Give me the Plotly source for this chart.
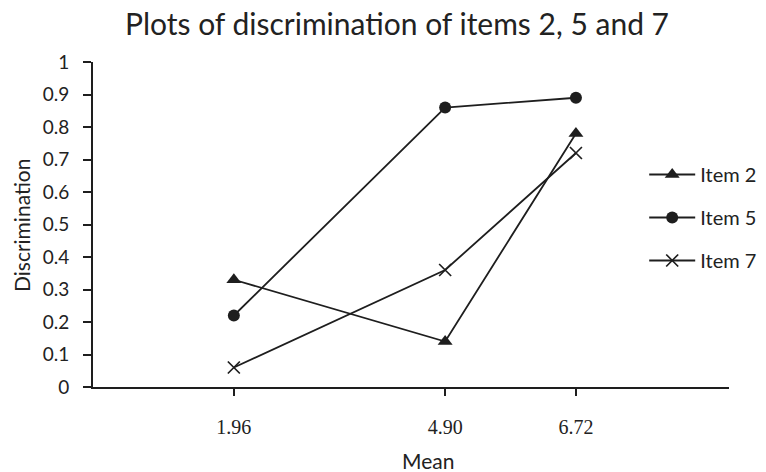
import plotly.graph_objects as go

means = [1.96, 4.90, 6.72]
mean_labels = ["1.96", "4.90", "6.72"]
item2 = [0.33, 0.14, 0.78]
item5 = [0.22, 0.86, 0.89]
item7 = [0.06, 0.36, 0.72]
series_names = ["Item 2", "Item 5", "Item 7"]
y_ticks = [0, 0.1, 0.2, 0.3, 0.4, 0.5, 0.6, 0.7, 0.8, 0.9, 1]
y_tick_labels = ["0", "0.1", "0.2", "0.3", "0.4", "0.5", "0.6", "0.7", "0.8", "0.9", "1"]

ink = "#1e1e1e"
# page body has an 8px default margin: work in window coords minus 8
OFF = 8
W, H = 766, 472
L = 93 - OFF
T = 62 - OFF
plot_right = 738 - OFF
plot_bottom = 387 - OFF
R = W - plot_right
B = H - plot_bottom
pw = plot_right - L
ph = plot_bottom - T


def px_x(x):
    return (x - OFF - L) / pw


def px_y(y):
    return (plot_bottom - (y - OFF)) / ph


fig = go.Figure()
specs = [
    (item2, dict(symbol="triangle-up", size=13, color=ink)),
    (item5, dict(symbol="circle", size=12, color=ink)),
    (item7, dict(symbol="x-thin", size=12, color=ink, line=dict(color=ink, width=1.7))),
]
for name, (vals, mk) in zip(series_names, specs):
    fig.add_trace(go.Scatter(
        x=means, y=vals, name=name, mode="lines+markers",
        line=dict(color=ink, width=1.8), marker=mk, legendgroup=name,
    ))

fig.update_layout(
    width=W, height=H,
    margin=dict(l=L, r=R, t=T, b=B, pad=0),
    paper_bgcolor="white", plot_bgcolor="white",
    showlegend=True,
    title=dict(text="Plots of discrimination of items 2, 5 and 7",
               font=dict(family="Lato", size=30, color="#222"),
               xref="container", x=(397 - OFF) / W, xanchor="center",
               yref="container", y=1 - (24 - OFF) / H, yanchor="middle"),
    legend=dict(x=px_x(652), xanchor="left",
                y=px_y(217.5), yanchor="middle",
                font=dict(family="Lato", size=20, color="#222"),
                bgcolor="rgba(0,0,0,0)", tracegroupgap=14,
                traceorder="grouped", itemwidth=46),
    font=dict(family="Lato", color="#222"),
)
fig.update_xaxes(
    range=[0, 8.85], tickvals=means, ticktext=mean_labels,
    showgrid=False, zeroline=False, showline=True, linecolor=ink, linewidth=2,
    ticks="outside", ticklen=7, tickwidth=2, tickcolor=ink,
    tickfont=dict(family="Liberation Serif", size=20, color="#222"),
    ticklabelstandoff=14, automargin=False,
)
fig.update_yaxes(
    range=[0, 1], tickvals=y_ticks, ticktext=y_tick_labels,
    showgrid=False, zeroline=False, showline=True, linecolor=ink, linewidth=2,
    ticks="outside", ticklen=8, tickwidth=2, tickcolor=ink,
    tickfont=dict(family="Lato", size=19, color="#222"),
    ticklabelstandoff=10, automargin=False,
)
fig.add_annotation(text="Mean", xref="paper", yref="paper",
                   x=px_x(433), y=px_y(460), xanchor="center", yanchor="middle",
                   showarrow=False, font=dict(family="Lato", size=21, color="#222"))
fig.add_annotation(text="Discrimination", xref="paper", yref="paper",
                   x=px_x(21), y=px_y(225), xanchor="center", yanchor="middle",
                   textangle=-90, showarrow=False,
                   font=dict(family="Lato", size=21, color="#222"))

fig.write_html("out.html")
